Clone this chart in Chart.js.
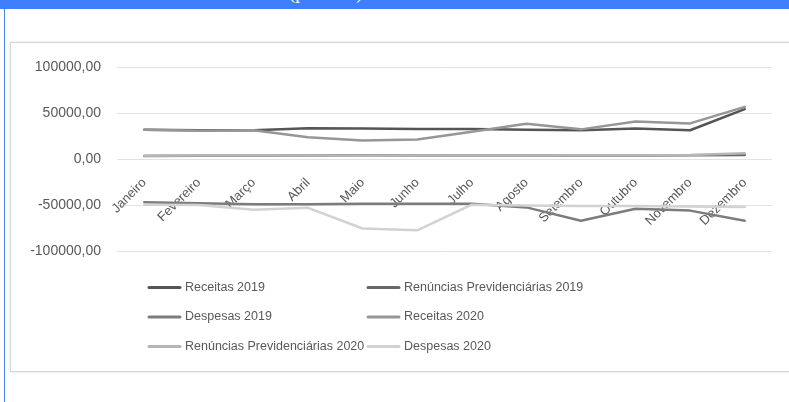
<!DOCTYPE html>
<html lang="pt-BR">
<head>
    <meta charset="UTF-8">
    <title>RGPS - Receitas, Renúncias e Despesas</title>
    <style>
        body {
            margin: 0;
            padding: 0;
            background-color: #fff;
            width: 789px;
            height: 402px;
            overflow: hidden;
            position: relative;
        }

        .barra-topo {
            position: absolute;
            left: 0;
            top: 0;
            width: 789px;
            height: 9px;
            background-color: #3f7ffb;
            overflow: hidden;
        }

        .barra-topo span {
            position: absolute;
            left: 289px;
            top: -17px;
            font-family: "Liberation Serif", "DejaVu Serif", serif;
            font-size: 19px;
            line-height: 19px;
            color: #fff;
            white-space: nowrap;
        }

        .borda-esquerda {
            position: absolute;
            left: 4px;
            top: 9px;
            width: 1px;
            height: 393px;
            background-color: #4a85fb;
        }

        .quadro {
            position: absolute;
            left: 10px;
            top: 42px;
            width: 800px;
            height: 328px;
            border: 1px solid #d6d6d6;
            box-shadow: 0 0 3px rgba(0, 0, 0, 0.12);
            background-color: #fff;
        }

        .quadro canvas {
            display: block;
        }
    </style>
</head>
<body>
    <div class="barra-topo"><span>(por mês)</span></div>
    <div class="borda-esquerda"></div>

    <div class="quadro">
        <canvas id="graficoRgps" width="778" height="328"></canvas>
    </div>

    <script src="https://cdn.jsdelivr.net/npm/chart.js"></script>
    <script>
        // Meses e séries (R$ milhões)
        const meses = ['Janeiro', 'Fevereiro', 'Março', 'Abril', 'Maio', 'Junho',
                       'Julho', 'Agosto', 'Setembro', 'Outubro', 'Novembro', 'Dezembro'];

        const receitas2019 = [32000, 31500, 31500, 33800, 33500, 33000, 32800, 32000, 31500, 33500, 31500, 54500];
        const renuncias2019 = [3600, 3700, 3800, 4000, 4000, 4000, 4000, 4000, 4000, 4000, 4200, 4500];
        const despesas2019 = [-47000, -48000, -49000, -49000, -48500, -48500, -48500, -52500, -67000, -54000, -56000, -67000];
        const receitas2020 = [32000, 31000, 31500, 24000, 20500, 21500, 30000, 38500, 32500, 41000, 39000, 57000];
        const renuncias2020 = [3800, 3900, 4000, 3900, 3800, 3900, 4000, 4100, 4200, 4300, 4600, 6500];
        const despesas2020 = [-49500, -50000, -55000, -53000, -75500, -77500, -49500, -50500, -51000, -51000, -51500, -52000];

        const ticksY = [-100000, -50000, 0, 50000, 100000];

        const nomesSeries = ['Receitas 2019', 'Renúncias Previdenciárias 2019', 'Despesas 2019',
                             'Receitas 2020', 'Renúncias Previdenciárias 2020', 'Despesas 2020'];
        const valoresSeries = [receitas2019, renuncias2019, despesas2019, receitas2020, renuncias2020, despesas2020];
        const coresSeries = ['#555555', '#686868', '#7c7c7c', '#969696', '#b6b6b6', '#d2d2d2'];

        const fonte = '"Liberation Sans", Arial, sans-serif';
        Chart.defaults.font.family = fonte;
        Chart.defaults.color = '#595959';

        // Legenda em duas colunas, desenhada abaixo do gráfico
        const legendaGrade = {
            id: 'legendaGrade',
            afterDraw(chart) {
                const ctx = chart.ctx;
                const colunas = [138, 357];
                const linhas = [244.5, 274, 303.5];
                ctx.save();
                ctx.font = '12.5px ' + fonte;
                ctx.textBaseline = 'middle';
                ctx.textAlign = 'left';
                chart.data.datasets.forEach((ds, i) => {
                    const x = colunas[i % 2];
                    const y = linhas[Math.floor(i / 2)];
                    ctx.strokeStyle = ds.borderColor;
                    ctx.lineWidth = 3;
                    ctx.lineCap = 'round';
                    ctx.beginPath();
                    ctx.moveTo(x, y);
                    ctx.lineTo(x + 31, y);
                    ctx.stroke();
                    ctx.fillStyle = '#595959';
                    ctx.fillText(ds.label, x + 36, y);
                });
                ctx.restore();
            }
        };

        const ctx = document.getElementById('graficoRgps').getContext('2d');
        const grafico = new Chart(ctx, {
            type: 'line',
            data: {
                labels: meses,
                datasets: nomesSeries.map((nome, i) => ({
                    label: nome,
                    data: valoresSeries[i],
                    borderColor: coresSeries[i],
                    backgroundColor: coresSeries[i],
                    borderWidth: 2.5,
                    borderJoinStyle: 'round',
                    borderCapStyle: 'round',
                    pointRadius: 0,
                    tension: 0,
                    fill: false,
                    // séries posteriores ficam por cima
                    order: nomesSeries.length - i
                }))
            },
            options: {
                responsive: false,
                animation: false,
                layout: {
                    padding: { left: 0, right: 17, top: 20, bottom: 120 }
                },
                plugins: {
                    legend: { display: false },
                    tooltip: { enabled: false }
                },
                scales: {
                    x: {
                        position: { y: 0 },
                        offset: true,
                        grid: { display: false },
                        border: { display: false },
                        ticks: {
                            autoSkip: false,
                            minRotation: 45,
                            maxRotation: 45,
                            padding: 8,
                            font: { size: 13 },
                            color: '#595959'
                        }
                    },
                    y: {
                        min: -100000,
                        max: 100000,
                        afterBuildTicks(scale) {
                            scale.ticks = ticksY.map(v => ({ value: v }));
                        },
                        afterFit(scale) {
                            scale.width = 106;
                        },
                        grid: {
                            color: '#e2e2e2',
                            lineWidth: 1,
                            drawTicks: false
                        },
                        border: { display: false },
                        ticks: {
                            padding: 16,
                            font: { size: 14 },
                            color: '#595959',
                            callback: v => v.toFixed(2).replace('.', ',')
                        }
                    }
                }
            },
            plugins: [legendaGrade]
        });
    </script>
</body>
</html>
